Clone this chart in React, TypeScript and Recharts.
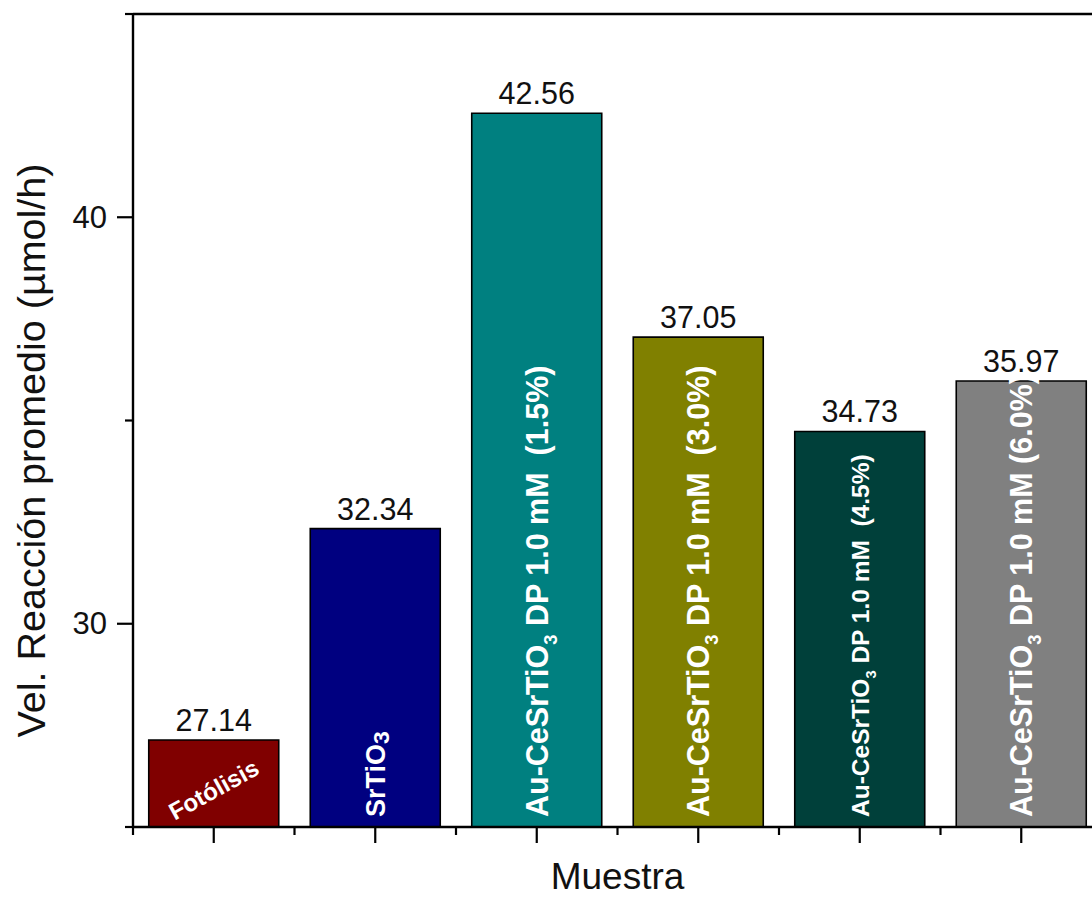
import React from "react";
import { BarChart, Bar, XAxis, YAxis, Cell, LabelList, ReferenceLine } from "recharts";

// Samples, in plotting order
const samples = [
  "Fotólisis",
  "SrTiO3",
  "Au-CeSrTiO3 DP 1.0 mM (1.5%)",
  "Au-CeSrTiO3 DP 1.0 mM (3.0%)",
  "Au-CeSrTiO3 DP 1.0 mM (4.5%)",
  "Au-CeSrTiO3 DP 1.0 mM (6.0%)",
];

// Average reaction rate (µmol/h)
const rates = [27.14, 32.34, 42.56, 37.05, 34.73, 35.97];

// Bar fills
const palette = ["#800000", "#000080", "#008080", "#808000", "#00403a", "#808080"];

// Labels written inside each bar: main text, subscript, remainder
const barText = [
  { main: "Fotólisis", sub: "", rest: "" },
  { main: "SrTiO", sub: "3", rest: "" },
  { main: "Au-CeSrTiO", sub: "3", rest: " DP 1.0 mM  (1.5%)" },
  { main: "Au-CeSrTiO", sub: "3", rest: " DP 1.0 mM  (3.0%)" },
  { main: "Au-CeSrTiO", sub: "3", rest: " DP 1.0 mM  (4.5%)" },
  { main: "Au-CeSrTiO", sub: "3", rest: " DP 1.0 mM (6.0%)" },
];

// Y axis ticks: all get a tick mark, only these get a number
const yTicks = [25, 30, 35, 40, 45];
const yLabeledTicks = [30, 40];

const yTitle = "Vel. Reacción promedio (µmol/h)";
const xTitle = "Muestra";

const FONT = "'Liberation Sans', Arial, Helvetica, sans-serif";

const CHART_W = 1110;
const CHART_H = 898;
const Y_AXIS_W = 133;
const X_AXIS_H = 71;
const MARGIN = { top: 14, right: 8, bottom: 0, left: 0 };
const AXIS_STROKE = 2.4;

const data = samples.map((name, i) => ({ name, rate: rates[i] }));

const YTick = (props: any) => {
  const { x, y, payload } = props;
  const major = yLabeledTicks.includes(payload.value);
  const len = major ? 16 : 8;
  return (
    <g>
      <line x1={x - len} x2={x} y1={y} y2={y} stroke="#000" strokeWidth={2.2} />
      {major && (
        <text
          x={x - len - 10}
          y={y}
          textAnchor="end"
          dominantBaseline="central"
          fontSize={31}
          fontFamily={FONT}
          fill="#111"
        >
          {payload.value}
        </text>
      )}
    </g>
  );
};

const XTick = (props: any) => {
  const { x, y, payload, index } = props;
  const plotW = CHART_W - Y_AXIS_W - MARGIN.right;
  const half = payload && typeof payload.offset === "number" && payload.offset > 0
    ? payload.offset
    : plotW / samples.length / 2;
  const last = index === samples.length - 1;
  return (
    <g stroke="#000" strokeWidth={2.2}>
      <line x1={x} x2={x} y1={y} y2={y + 16} />
      <line x1={x - half} x2={x - half} y1={y} y2={y + 8} />
      {last && <line x1={x + half} x2={x + half} y1={y} y2={y + 8} />}
    </g>
  );
};

const InnerLabel = (props: any) => {
  const { x, y, width, height, index } = props;
  const t = barText[index];
  if (!t) return null;
  const cx = x + width / 2;
  const bottom = y + height;

  if (index === 0) {
    const cy = y + height / 2 + 6;
    return (
      <text
        x={cx}
        y={cy}
        transform={`rotate(-29, ${cx}, ${cy})`}
        textAnchor="middle"
        dominantBaseline="central"
        fill="#fff"
        fontWeight="bold"
        fontSize={24}
        fontFamily={FONT}
      >
        {t.main}
      </text>
    );
  }

  const fs = index === 1 ? 27 : index === 4 ? 24.5 : 30.5;
  const subFs = index === 1 ? fs * 0.85 : fs * 0.6;
  const subDy = index === 1 ? fs * 0.15 : fs * 0.3;
  return (
    <g transform={`translate(${cx + fs * 0.36}, ${bottom - 10}) rotate(-90)`}>
      <text
        x={0}
        y={0}
        fill="#fff"
        fontWeight="bold"
        fontSize={fs}
        fontFamily={FONT}
        style={{ whiteSpace: "pre" }}
      >
        <tspan>{t.main}</tspan>
        <tspan fontSize={subFs} dy={subDy}>{t.sub}</tspan>
        {t.rest && <tspan dy={-subDy}>{t.rest}</tspan>}
      </text>
    </g>
  );
};

const YTitle = (props: any) => {
  const vb = props.viewBox || { x: 0, y: MARGIN.top, width: Y_AXIS_W, height: CHART_H - X_AXIS_H - MARGIN.top };
  const cx = vb.x + 31;
  const cy = vb.y + vb.height / 2 + 30;
  return (
    <text
      x={cx}
      y={cy}
      transform={`rotate(-90, ${cx}, ${cy})`}
      textAnchor="middle"
      dominantBaseline="central"
      fontSize={39.5}
      fontFamily={FONT}
      fill="#111"
    >
      {yTitle}
    </text>
  );
};

const XTitle = (props: any) => {
  const vb = props.viewBox || { x: Y_AXIS_W, y: CHART_H - X_AXIS_H, width: CHART_W - Y_AXIS_W - MARGIN.right, height: X_AXIS_H };
  return (
    <text
      x={vb.x + vb.width / 2}
      y={vb.y + vb.height - 9}
      textAnchor="middle"
      fontSize={37}
      fontFamily={FONT}
      fill="#111"
    >
      {xTitle}
    </text>
  );
};

export default function App() {
  return (
    <div
      style={{
        position: "absolute",
        left: 0,
        top: 0,
        width: 1092,
        height: 898,
        overflow: "hidden",
        background: "#fff",
      }}
    >
      <BarChart
        width={CHART_W}
        height={CHART_H}
        data={data}
        margin={MARGIN}
        barCategoryGap="9.75%"
      >
        <XAxis
          dataKey="name"
          type="category"
          height={X_AXIS_H}
          axisLine={{ stroke: "#000", strokeWidth: AXIS_STROKE }}
          tickLine={false}
          tickSize={0}
          tickMargin={0}
          interval={0}
          tick={<XTick />}
          label={<XTitle />}
        />
        <YAxis
          type="number"
          domain={[25, 45]}
          ticks={yTicks}
          interval={0}
          allowDataOverflow
          width={Y_AXIS_W}
          axisLine={{ stroke: "#000", strokeWidth: AXIS_STROKE }}
          tickLine={false}
          tickSize={0}
          tickMargin={0}
          tick={<YTick />}
          label={<YTitle />}
        />
        <ReferenceLine y={45} stroke="#000" strokeWidth={AXIS_STROKE} />
        <Bar dataKey="rate" stroke="#000" strokeWidth={1.6} isAnimationActive={false}>
          {data.map((d, i) => (
            <Cell key={d.name} fill={palette[i]} />
          ))}
          <LabelList
            dataKey="rate"
            position="top"
            offset={9}
            fontSize={30.5}
            fontFamily={FONT}
            fill="#111"
          />
          <LabelList dataKey="rate" content={<InnerLabel />} />
        </Bar>
      </BarChart>
    </div>
  );
}
